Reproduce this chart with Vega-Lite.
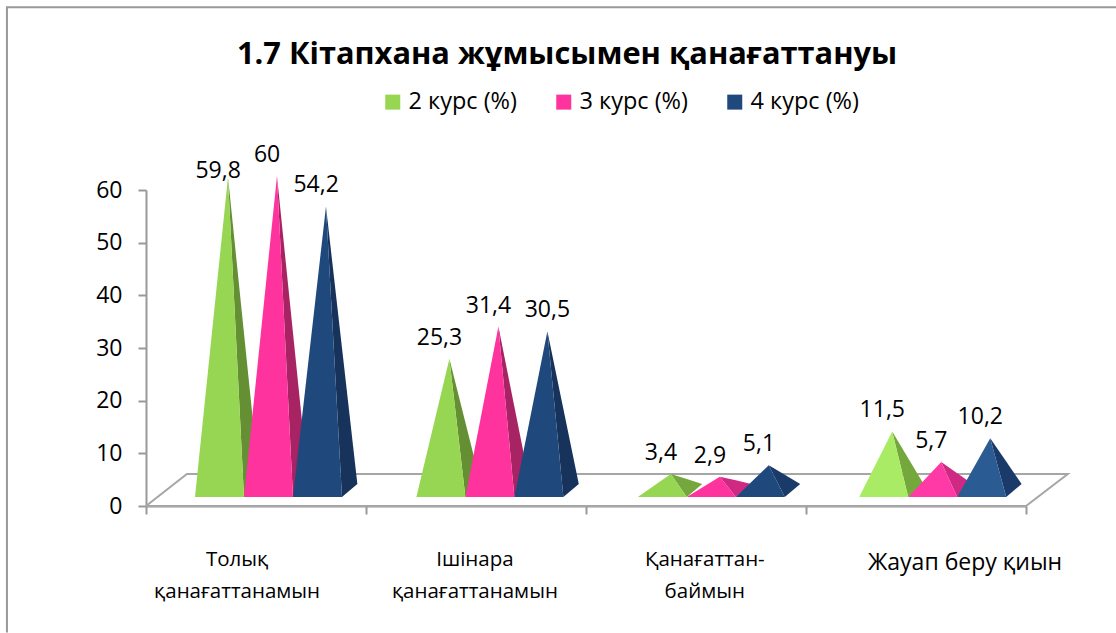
{"$schema":"https://vega.github.io/schema/vega-lite/v6.json","width":880,"height":316,"autosize":"none","padding":{"left":146,"top":190,"right":90,"bottom":127},"background":"white","config":{"view":{"stroke":null},"font":"Open Sans"},"datasets":{"rows":[{"category":"Толық\nқанағаттанамын","series":"2 курс (%)","value":59.8},{"category":"Толық\nқанағаттанамын","series":"3 курс (%)","value":60},{"category":"Толық\nқанағаттанамын","series":"4 курс (%)","value":54.2},{"category":"Ішінара\nқанағаттанамын","series":"2 курс (%)","value":25.3},{"category":"Ішінара\nқанағаттанамын","series":"3 курс (%)","value":31.4},{"category":"Ішінара\nқанағаттанамын","series":"4 курс (%)","value":30.5},{"category":"Қанағаттан-\nбаймын","series":"2 курс (%)","value":3.4},{"category":"Қанағаттан-\nбаймын","series":"3 курс (%)","value":2.9},{"category":"Қанағаттан-\nбаймын","series":"4 курс (%)","value":5.1},{"category":"Жауап беру қиын","series":"2 курс (%)","value":11.5},{"category":"Жауап беру қиын","series":"3 курс (%)","value":5.7},{"category":"Жауап беру қиын","series":"4 курс (%)","value":10.2}],"categories":[{"category":"Толық\nқанағаттанамын"},{"category":"Ішінара\nқанағаттанамын"},{"category":"Қанағаттан-\nбаймын"},{"category":"Жауап беру қиын"}],"corners":[{"corner":0},{"corner":1},{"corner":2},{"corner":3},{"corner":4}],"frameCorners":[{"corner":0},{"corner":1},{"corner":2}],"heading":[{"heading":"1.7 Кітапхана жұмысымен қанағаттануы"}]},"encoding":{"x":{"field":"px","type":"quantitative","scale":{"domain":[0,4],"nice":false,"zero":false},"axis":{"values":[0,1,2,3,4],"labels":false,"title":null,"grid":false,"domainColor":"#999999","domainWidth":2,"tickColor":"#999999","tickWidth":2,"tickSize":8}},"y":{"field":"py","type":"quantitative","scale":{"domain":[0,60],"nice":false,"zero":false},"axis":{"values":[0,10,20,30,40,50,60],"title":null,"grid":false,"domainColor":"#999999","domainWidth":2,"tickColor":"#999999","tickWidth":2,"tickSize":8,"labelFont":"Open Sans","labelFontSize":23,"labelColor":"black","labelPadding":16}}},"resolve":{"scale":{"color":"independent"}},"layer":[{"data":{"name":"frameCorners"},"transform":[{"calculate":"[-0.632,-0.632,4.45][datum.corner]","as":"px"},{"calculate":"[-24,94.7,94.7][datum.corner]","as":"py"}],"mark":{"type":"line","color":"#999999","strokeWidth":2,"clip":false},"encoding":{"order":{"field":"corner"}}},{"data":{"name":"heading"},"transform":[{"calculate":"1.914","as":"px"},{"calculate":"84","as":"py"}],"mark":{"type":"text","font":"Open Sans","fontSize":30.75,"fontWeight":"bold","color":"black","baseline":"alphabetic","align":"center"},"encoding":{"text":{"field":"heading","type":"nominal"}}},{"data":{"name":"corners"},"transform":[{"calculate":"[0,0.186,4.19,4,0][datum.corner]","as":"px"},{"calculate":"[0,6.08,6.08,0,0][datum.corner]","as":"py"}],"mark":{"type":"line","color":"#A6A6A6","strokeWidth":2},"encoding":{"order":{"field":"corner"}}},{"data":{"name":"rows"},"transform":[{"calculate":"indexof(['Толық\\nқанағаттанамын','Ішінара\\nқанағаттанамын','Қанағаттан-\\nбаймын','Жауап беру қиын'],datum.category)","as":"i"},{"calculate":"indexof(['2 курс (%)','3 курс (%)','4 курс (%)'],datum.series)","as":"s"},{"calculate":"0.2227+1.0064*datum.i+0.2227*datum.s","as":"left"},{"calculate":"datum.left+0.2227","as":"right"},{"calculate":"datum.left+0.15","as":"apex"},{"calculate":"datum.right+0.07","as":"back"},{"calculate":"datum.value+2.66","as":"yApex"},{"calculate":"[0,1,2]","as":"k"},{"flatten":["k"]},{"calculate":"datum.k==0?datum.apex:datum.k==1?datum.right:datum.back","as":"px"},{"calculate":"datum.k==0?datum.yApex:datum.k==1?datum.yApex+(4.2-datum.yApex)*(datum.right-datum.apex)/(datum.back-datum.apex):4.2","as":"py"},{"calculate":"datum.k==0?datum.yApex:datum.k==1?1.7:4.2","as":"py2"},{"calculate":"datum.series+(datum.i>=2?'b':'')","as":"tone"},{"calculate":"datum.category+datum.series","as":"key"}],"mark":{"type":"area","interpolate":"linear"},"encoding":{"y2":{"field":"py2"},"detail":{"field":"key"},"color":{"field":"tone","type":"nominal","legend":null,"scale":{"domain":["2 курс (%)","3 курс (%)","4 курс (%)","2 курс (%)b","3 курс (%)b","4 курс (%)b"],"range":["#658F33","#A82363","#17335C","#74A83C","#CF2984","#1A3B69"]}}}},{"data":{"name":"rows"},"transform":[{"calculate":"indexof(['Толық\\nқанағаттанамын','Ішінара\\nқанағаттанамын','Қанағаттан-\\nбаймын','Жауап беру қиын'],datum.category)","as":"i"},{"calculate":"indexof(['2 курс (%)','3 курс (%)','4 курс (%)'],datum.series)","as":"s"},{"calculate":"0.2227+1.0064*datum.i+0.2227*datum.s","as":"left"},{"calculate":"datum.left+0.2227","as":"right"},{"calculate":"datum.left+0.15","as":"apex"},{"calculate":"datum.value+2.66","as":"yApex"},{"calculate":"[0,1,2]","as":"k"},{"flatten":["k"]},{"calculate":"datum.k==0?datum.left:datum.k==1?datum.apex:datum.right","as":"px"},{"calculate":"datum.k==1?datum.yApex:1.7","as":"py"},{"calculate":"1.7","as":"py2"},{"calculate":"datum.series+(datum.i==3?'b':'')","as":"tone"},{"calculate":"datum.category+datum.series","as":"key"}],"mark":{"type":"area","interpolate":"linear"},"encoding":{"y2":{"field":"py2"},"detail":{"field":"key"},"color":{"field":"tone","type":"nominal","title":null,"scale":{"domain":["2 курс (%)","3 курс (%)","4 курс (%)","2 курс (%)b","3 курс (%)b","4 курс (%)b"],"range":["#96D652","#FF339E","#1F497D","#A9EB64","#FF39A6","#2A5B93"]},"legend":{"values":["2 курс (%)","3 курс (%)","4 курс (%)"],"orient":"none","legendX":235,"legendY":-100,"direction":"horizontal","columns":3,"symbolType":"square","symbolSize":225,"symbolStrokeWidth":0,"labelFont":"Open Sans","labelFontSize":23.5,"labelColor":"black","labelOffset":4,"columnPadding":35,"labelLimit":200,"padding":0}}}},{"data":{"name":"rows"},"transform":[{"calculate":"indexof(['Толық\\nқанағаттанамын','Ішінара\\nқанағаттанамын','Қанағаттан-\\nбаймын','Жауап беру қиын'],datum.category)","as":"i"},{"calculate":"indexof(['2 курс (%)','3 курс (%)','4 курс (%)'],datum.series)","as":"s"},{"calculate":"0.2227+1.0064*datum.i+0.2227*datum.s+0.15+(datum.value==30.5?0:-0.045)","as":"px"},{"calculate":"datum.value+2.66+(datum.value==59.8?-0.2:2.67)","as":"py"},{"calculate":"replace(format(datum.value,'.10~f'),'.',',')","as":"label"}],"mark":{"type":"text","font":"Open Sans","fontSize":23,"color":"black","baseline":"alphabetic","align":"center"},"encoding":{"text":{"field":"label","type":"nominal"}}},{"data":{"name":"categories"},"transform":[{"filter":"datum.category!='Жауап беру қиын'"},{"calculate":"indexof(['Толық\\nқанағаттанамын','Ішінара\\nқанағаттанамын','Қанағаттан-\\nбаймын'],datum.category)","as":"i"},{"calculate":"[0.414,1.495,2.54][datum.i]","as":"px"},{"calculate":"-11.4","as":"py"}],"mark":{"type":"text","font":"Open Sans","fontSize":20.5,"color":"black","baseline":"alphabetic","align":"center","lineBreak":"\n","lineHeight":32},"encoding":{"text":{"field":"category","type":"nominal"}}},{"data":{"name":"categories"},"transform":[{"filter":"datum.category=='Жауап беру қиын'"},{"calculate":"3.723","as":"px"},{"calculate":"-12.2","as":"py"}],"mark":{"type":"text","font":"Open Sans","fontSize":23,"color":"black","baseline":"alphabetic","align":"center"},"encoding":{"text":{"field":"category","type":"nominal"}}}]}
